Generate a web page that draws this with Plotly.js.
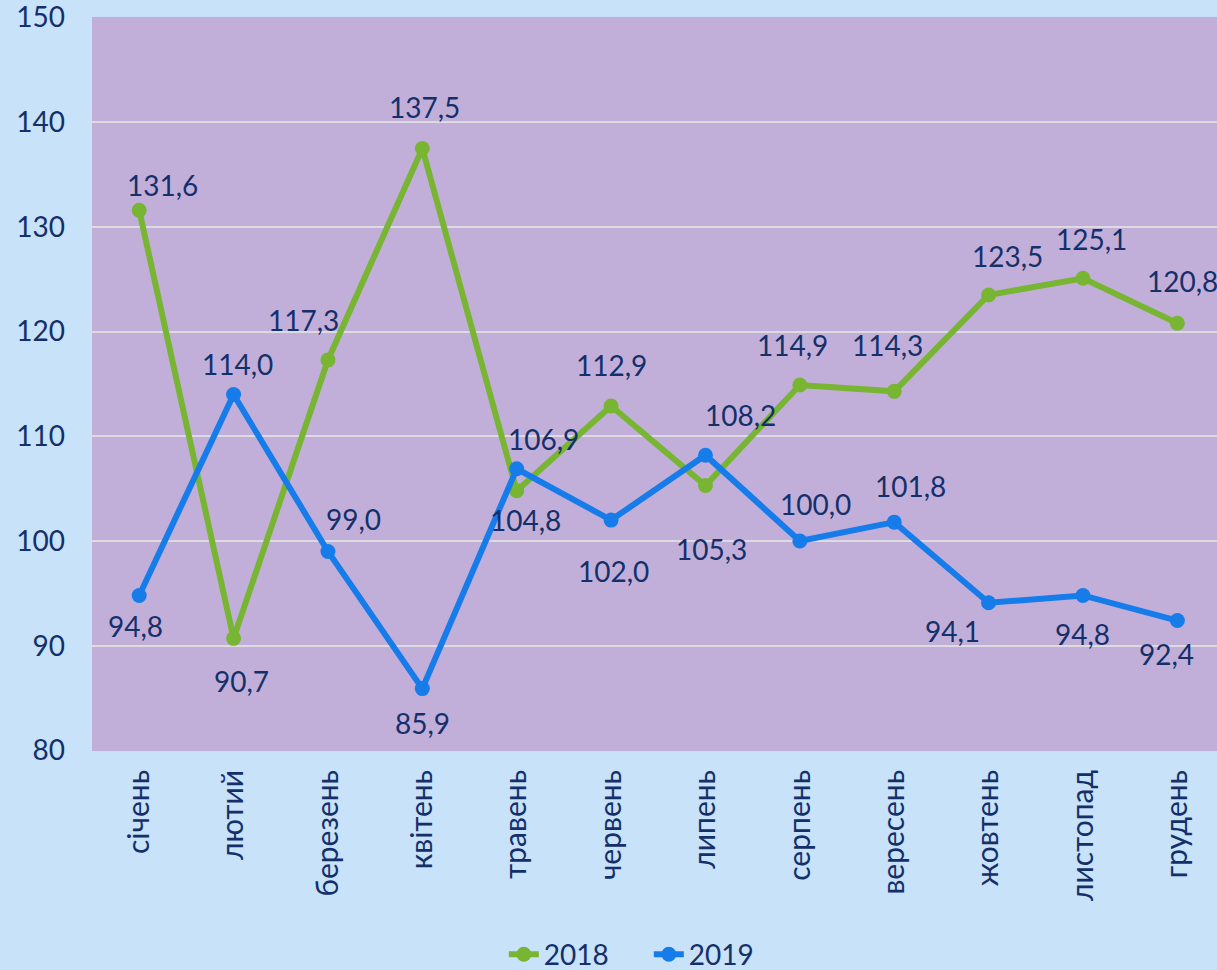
<!DOCTYPE html>
<html><head><meta charset="utf-8">
<script src="https://cdn.plot.ly/plotly-3.0.1.min.js"></script>
<style>html,body{margin:0;padding:0;background:#C8E2FA;}#chart{width:1217px;height:970px;}</style>
</head><body><div id="chart"></div>
<script>
var months = ["січень","лютий","березень","квітень","травень","червень","липень","серпень","вересень","жовтень","листопад","грудень"];
var values2018 = [131.6, 90.7, 117.3, 137.5, 104.8, 112.9, 105.3, 114.9, 114.3, 123.5, 125.1, 120.8];
var values2019 = [94.8, 114.0, 99.0, 85.9, 106.9, 102.0, 108.2, 100.0, 101.8, 94.1, 94.8, 92.4];
var yTicks = [80, 90, 100, 110, 120, 130, 140, 150];

// label offsets (px) relative to each point
var off2018 = [[23,-25],[8,43],[-24,-40],[2,-41],[9,29],[0,-41],[6,63],[-7,-40],[-7,-46],[19,-39],[9,-39],[5,-42]];
var off2019 = [[-4,31],[4,-30],[26,-32],[0,34],[27,-30],[2,51],[35,-40],[16,-37],[16,-36],[-36,28],[0,39],[-11,33]];

var green = "#78B532", blue = "#167CEA", navy = "#14306A";
var fnt = "Lato, 'Open Sans', sans-serif";

function fmt(v){ return v.toFixed(1).replace(".", ","); }

var idx = months.map(function(_, i){ return i; });
var traces = [
  {x: idx, y: values2018, name: "2018", type: "scatter", mode: "lines+markers", cliponaxis: false,
   line: {color: green, width: 6}, marker: {color: green, size: 15}},
  {x: idx, y: values2019, name: "2019", type: "scatter", mode: "lines+markers", cliponaxis: false,
   line: {color: blue, width: 6}, marker: {color: blue, size: 15}}
];

var annotations = [];
function addLabels(vals, offs){
  vals.forEach(function(v, i){
    annotations.push({x: i, y: v, xref: "x", yref: "y", text: fmt(v), showarrow: false,
      xshift: offs[i][0], yshift: -offs[i][1], font: {family: fnt, size: 28, color: navy}});
  });
}
addLabels(values2018, off2018);
addLabels(values2019, off2019);

var layout = {
  width: 1217, height: 970,
  margin: {l: 92, r: 0, t: 17, b: 219, autoexpand: false},
  paper_bgcolor: "#C8E2FA", plot_bgcolor: "#C2AFD9",
  font: {family: fnt, color: navy},
  showlegend: true,
  legend: {orientation: "h", x: 0.414, xref: "container", xanchor: "left", y: 0.016, yref: "container", yanchor: "middle",
    font: {family: fnt, size: 28, color: navy}, tracegroupgap: 0, entrywidth: 100, entrywidthmode: "pixels",
    bgcolor: "rgba(0,0,0,0)"},
  xaxis: {range: [-0.5, 11.42], tickmode: "array", tickvals: idx, ticktext: months, automargin: false,
    tickangle: -90, tickfont: {family: fnt, size: 30, color: navy}, showgrid: false,
    zeroline: false, showline: false, ticks: "", fixedrange: true, ticklabelstandoff: 12},
  yaxis: {range: [79.94, 150.06], tickmode: "array", tickvals: yTicks, ticktext: yTicks.map(String), automargin: false,
    tickfont: {family: fnt, size: 28, color: navy}, showgrid: true, gridcolor: "#DCDCE0", ticklabeloverflow: "allow",
    gridwidth: 2, zeroline: false, showline: false, ticks: "", ticklabelstandoff: 26},
  annotations: annotations
};
Plotly.newPlot("chart", traces, layout, {displayModeBar: false, staticPlot: true});
</script></body></html>
